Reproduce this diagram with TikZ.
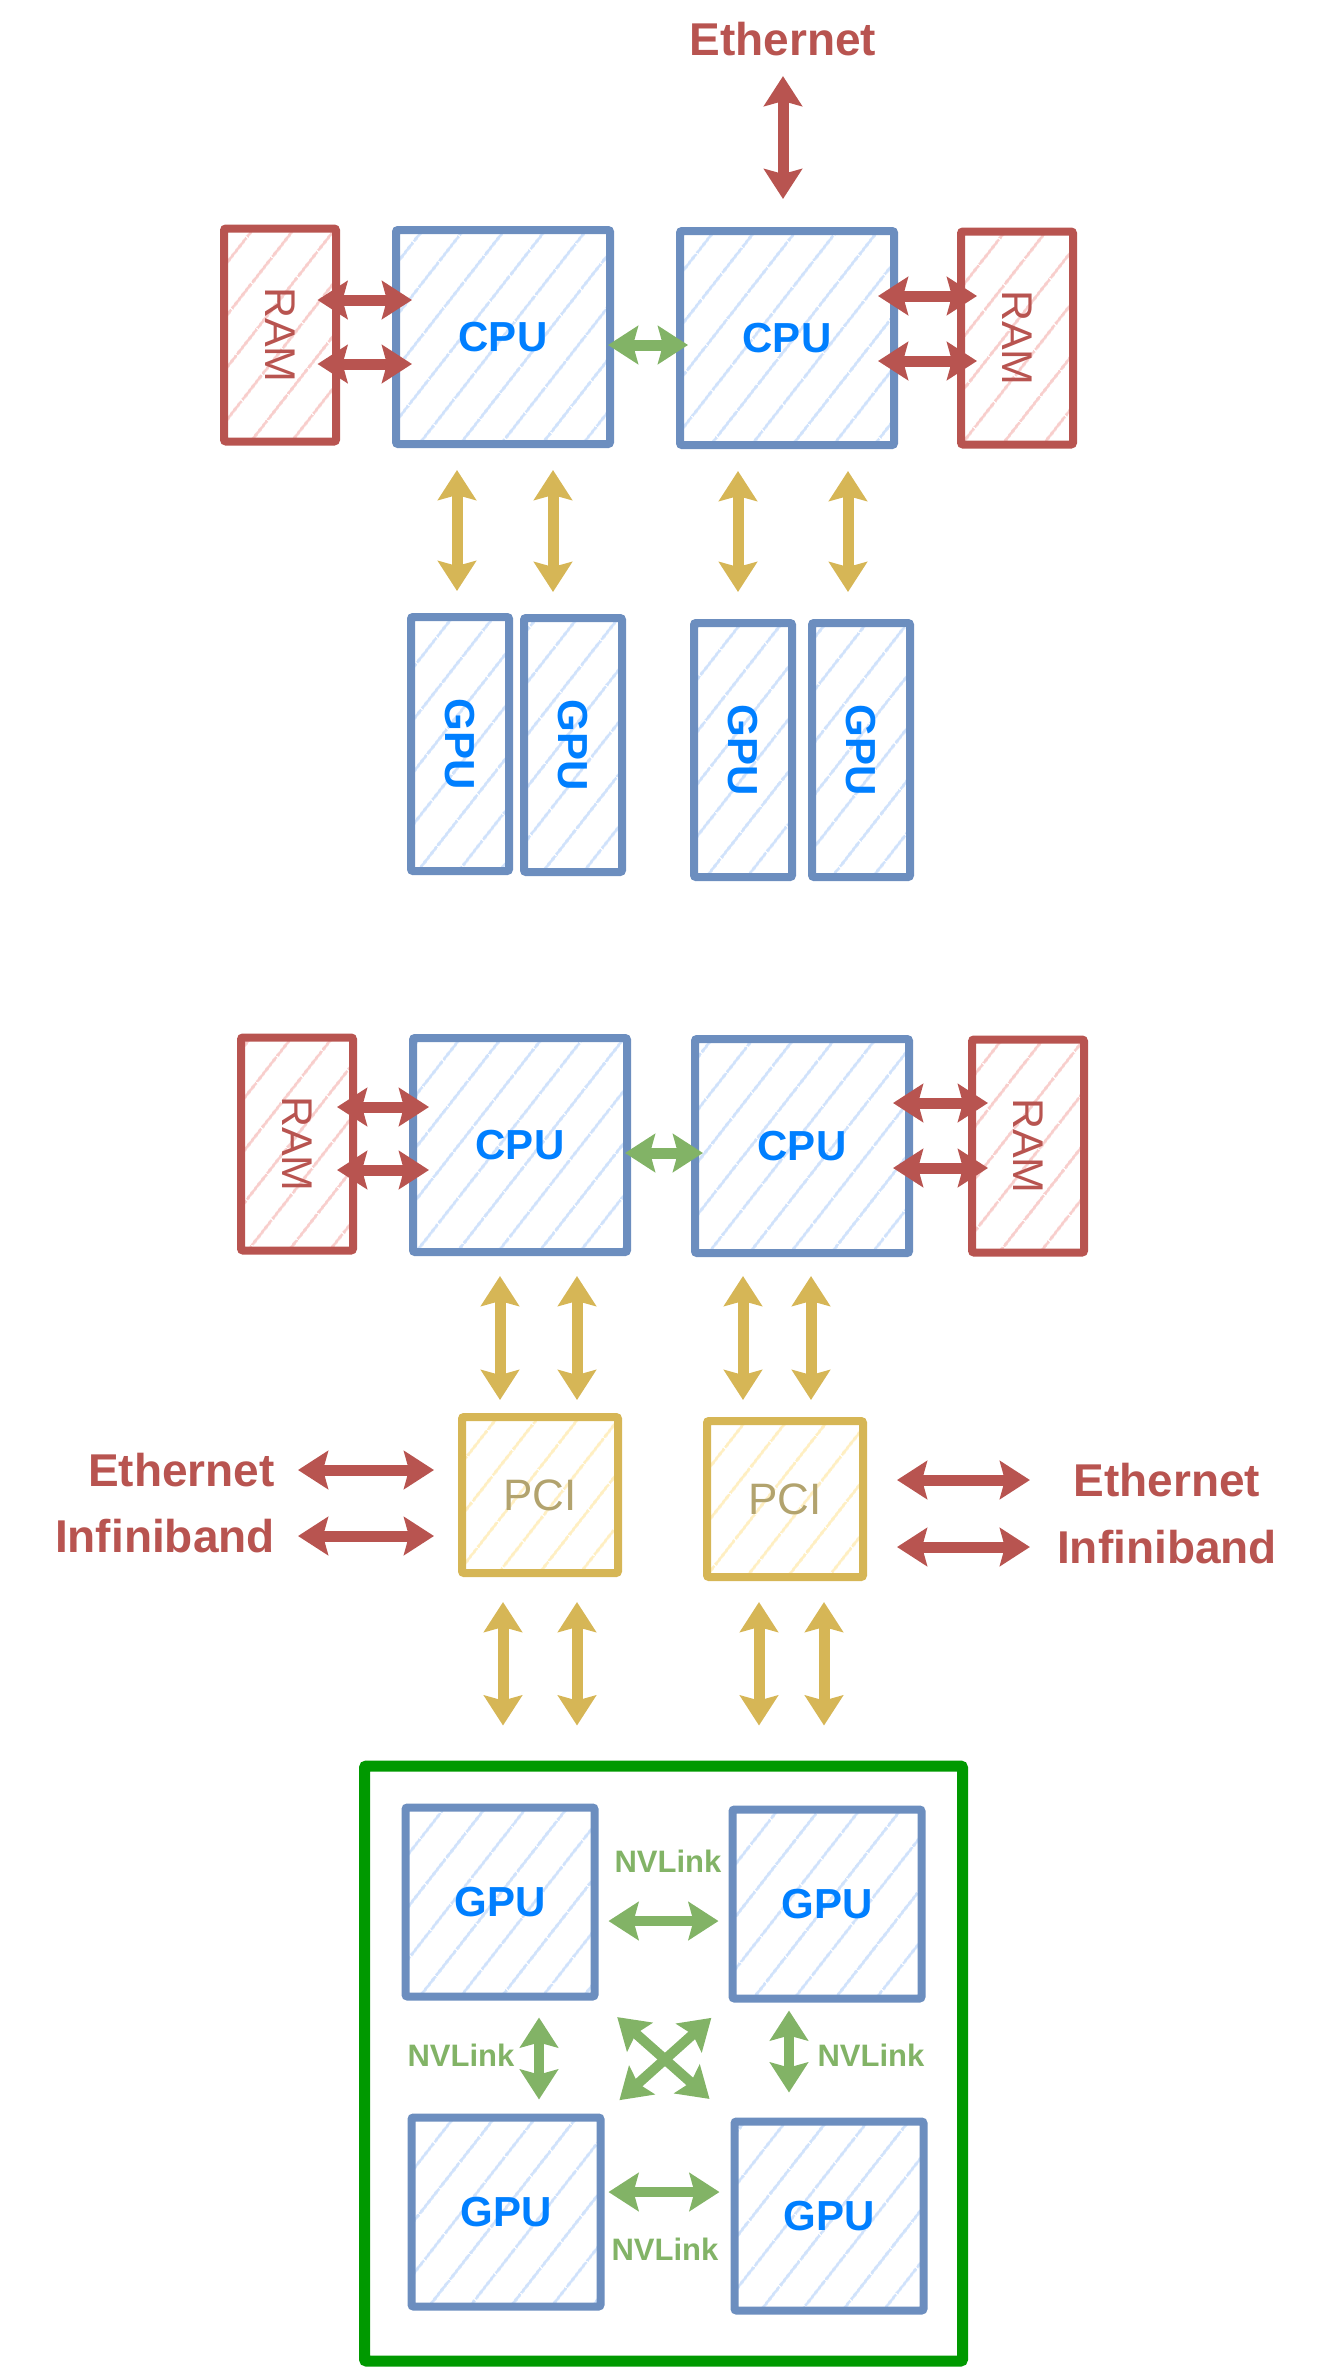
\documentclass[tikz,border=0pt]{standalone}
\usepackage{fontspec}
\setmainfont{Liberation Sans}
\usetikzlibrary{arrows.meta,patterns.meta}
\pgfdeclarelayer{bg}
\pgfsetlayers{bg,main}
\definecolor{cpuline}{HTML}{6C8EBF}
\definecolor{cpuhatch}{HTML}{D0E2FB}
\definecolor{cputext}{HTML}{007FFF}
\definecolor{ramline}{HTML}{B85450}
\definecolor{ramhatch}{HTML}{F8CECC}
\definecolor{pciline}{HTML}{D6B656}
\definecolor{pcihatch}{HTML}{FFEFC2}
\definecolor{pcitext}{HTML}{B2A36E}
\definecolor{nvgreen}{HTML}{82B366}
\definecolor{boardgreen}{HTML}{009900}

\begin{document}
\begin{tikzpicture}[x=1pt,y=-1pt,
    chipbox/.style={draw, line width=8pt, rounded corners=2pt, inner sep=0pt},
    cpubox/.style={chipbox, draw=cpuline, text=cputext,
      pattern={Lines[angle=52,distance=33pt,line width=3pt]}, pattern color=cpuhatch,
      minimum width=214pt, minimum height=214pt,
      font=\fontsize{42}{50}\selectfont\bfseries},
    gpubar/.style={cpubox, minimum width=98pt, minimum height=254pt},
    gpubox/.style={cpubox, minimum width=189pt, minimum height=189pt},
    rambox/.style={chipbox, draw=ramline, text=ramline,
      pattern={Lines[angle=52,distance=33pt,line width=3pt]}, pattern color=ramhatch,
      minimum width=112pt, minimum height=213pt,
      font=\fontsize{43}{51}\selectfont},
    pcibox/.style={chipbox, draw=pciline, text=pcitext,
      pattern={Lines[angle=52,distance=33pt,line width=3pt]}, pattern color=pcihatch,
      minimum width=156pt, minimum height=156pt,
      font=\fontsize{44}{52}\selectfont},
    board/.style={draw=boardgreen, line width=11pt, rounded corners=2pt,
      minimum width=598pt, minimum height=595pt},
    netlabel/.style={inner sep=0pt, text=ramline, font=\fontsize{46}{55}\selectfont\bfseries},
    nvlabel/.style={inner sep=0pt, text=nvgreen, font=\fontsize{31}{37}\selectfont\bfseries},
    duplex/.style={line width=11pt,
      arrows={Stealth[length=30pt,width=38pt,inset=5pt]-Stealth[length=30pt,width=38pt,inset=5pt]}},
    ramlink/.style={duplex, color=ramline, shorten <=-20pt, shorten >=-20pt},
    qpilink/.style={duplex, color=nvgreen, shorten <=-6pt, shorten >=-12pt},
    pcilink/.style={duplex, color=pciline, shorten <=22pt, shorten >=22pt},
    netlink/.style={duplex, color=ramline, shorten <=23pt, shorten >=24pt},
    nvlink/.style={duplex, color=nvgreen, line width=10pt, shorten <=10pt, shorten >=10pt},
  ]
  \useasboundingbox (0,0) rectangle (1327,2367);

  % first machine
  \node (ethTop) [netlabel] at (783,39) {Ethernet};
  \node (ramA) [rambox] at (280,335) {\rotatebox{-90}{RAM}};
  \node (cpuA) [cpubox] at (503,337) {CPU};
  \node (cpuB) [cpubox] at (787,338) {CPU};
  \node (ramB) [rambox] at (1017,338) {\rotatebox{-90}{RAM}};
  \node (barA) [gpubar] at (460,744) {\rotatebox{-90}{GPU}};
  \node (barB) [gpubar] at (573,745) {\rotatebox{-90}{GPU}};
  \node (barC) [gpubar] at (743,750) {\rotatebox{-90}{GPU}};
  \node (barD) [gpubar] at (861,750) {\rotatebox{-90}{GPU}};

  \draw (ethTop.south) edge [netlink, shorten <=20pt, shorten >=28pt] (ethTop.south |- cpuB.north);
  \draw ([yshift=35pt]ramA.east) edge [ramlink] ([yshift=35pt]ramA.east -| cpuA.west);
  \draw ([yshift=-29pt]ramA.east) edge [ramlink] ([yshift=-29pt]ramA.east -| cpuA.west);
  \draw ([yshift=42pt]cpuB.east) edge [ramlink] ([yshift=42pt]cpuB.east -| ramB.west);
  \draw ([yshift=-23pt]cpuB.east) edge [ramlink] ([yshift=-23pt]cpuB.east -| ramB.west);
  \draw ([yshift=-8pt]cpuA.east) edge [qpilink] ([yshift=-8pt]cpuA.east -| cpuB.west);
  \draw ([xshift=-3pt]barA.north |- cpuA.south) edge [pcilink] ([xshift=-3pt]barA.north);
  \draw ([xshift=-20pt]barB.north |- cpuA.south) edge [pcilink] ([xshift=-20pt]barB.north);
  \draw ([xshift=-5pt]barC.north |- cpuB.south) edge [pcilink, shorten >=27pt] ([xshift=-5pt]barC.north);
  \draw ([xshift=-13pt]barD.north |- cpuB.south) edge [pcilink, shorten >=27pt] ([xshift=-13pt]barD.north);

  % second machine
  \node (ramC) [rambox] at (297,1144) {\rotatebox{-90}{RAM}};
  \node (cpuC) [cpubox] at (520,1145) {CPU};
  \node (cpuD) [cpubox] at (802,1146) {CPU};
  \node (ramD) [rambox] at (1028,1146) {\rotatebox{-90}{RAM}};
  \node (pciA) [pcibox] at (540,1495) {PCI};
  \node (pciB) [pcibox] at (785,1499) {PCI};
  \node (ethL) [netlabel, anchor=east] at (275,1470) {Ethernet};
  \node (ibL) [netlabel, anchor=east] at (275,1536) {Infiniband};
  \node (ethR) [netlabel] at (1167,1480) {Ethernet};
  \node (ibR) [netlabel] at (1167,1547) {Infiniband};

  \draw ([yshift=37pt]ramC.east) edge [ramlink] ([yshift=37pt]ramC.east -| cpuC.west);
  \draw ([yshift=-26pt]ramC.east) edge [ramlink] ([yshift=-26pt]ramC.east -| cpuC.west);
  \draw ([yshift=43pt]cpuD.east) edge [ramlink] ([yshift=43pt]cpuD.east -| ramD.west);
  \draw ([yshift=-22pt]cpuD.east) edge [ramlink] ([yshift=-22pt]cpuD.east -| ramD.west);
  \draw ([yshift=-8pt]cpuC.east) edge [qpilink] ([yshift=-8pt]cpuC.east -| cpuD.west);
  \draw ([xshift=-40pt]pciA.north |- cpuC.south) edge [pcilink, shorten <=20pt, shorten >=13pt] ([xshift=-40pt]pciA.north);
  \draw ([xshift=37pt]pciA.north |- cpuC.south) edge [pcilink, shorten <=20pt, shorten >=13pt] ([xshift=37pt]pciA.north);
  \draw ([xshift=-42pt]pciB.north |- cpuD.south) edge [pcilink, shorten <=19pt, shorten >=17pt] ([xshift=-42pt]pciB.north);
  \draw ([xshift=26pt]pciB.north |- cpuD.south) edge [pcilink, shorten <=19pt, shorten >=17pt] ([xshift=26pt]pciB.north);
  \draw (ethL.east) edge [netlink] (ethL.east -| pciA.west);
  \draw (ibL.east) edge [netlink] (ibL.east -| pciA.west);
  \draw (ethR -| pciB.east) edge [netlink, shorten <=30pt, shorten >=27pt] (ethR -| ibR.west);
  \draw (ibR -| pciB.east) edge [netlink, shorten <=30pt, shorten >=27pt] (ibR.west);

  % gpu board
  \begin{pgfonlayer}{bg}
    \node (sys) [board] at (663.5,2063.5) {};
  \end{pgfonlayer}
  \node (gpuA) [gpubox] at (500,1902) {GPU};
  \node (gpuB) [gpubox] at (827,1904) {GPU};
  \node (gpuC) [gpubox] at (506,2212) {GPU};
  \node (gpuD) [gpubox] at (829,2216) {GPU};
  \node (nvA) [nvlabel] at (668,1861) {NVLink};
  \node (nvB) [nvlabel] at (461,2055) {NVLink};
  \node (nvC) [nvlabel] at (871,2055) {NVLink};
  \node (nvD) [nvlabel] at (665,2249) {NVLink};

  \draw ([xshift=-37pt]pciA.south) edge [pcilink, shorten <=25pt, shorten >=35pt] ([xshift=-37pt]pciA.south |- sys.north);
  \draw ([xshift=37pt]pciA.south) edge [pcilink, shorten <=25pt, shorten >=35pt] ([xshift=37pt]pciA.south |- sys.north);
  \draw ([xshift=-26pt]pciB.south) edge [pcilink, shorten <=21pt, shorten >=35pt] ([xshift=-26pt]pciB.south |- sys.north);
  \draw ([xshift=39pt]pciB.south) edge [pcilink, shorten <=21pt, shorten >=35pt] ([xshift=39pt]pciB.south |- sys.north);
  \draw ([yshift=-19pt]gpuA.east) edge [nvlink] ([yshift=-19pt]gpuA.east -| gpuB.west);
  \draw ([yshift=20pt]gpuC.east) edge [nvlink, shorten <=4pt, shorten >=11pt] ([yshift=20pt]gpuC.east -| gpuD.west);
  \draw ([xshift=39pt]gpuA.south) edge [nvlink, shorten <=17pt, shorten >=14pt] ([xshift=39pt]gpuA.south |- gpuC.north);
  \draw ([xshift=-38pt]gpuB.south) edge [nvlink, shorten <=8pt, shorten >=25pt] ([xshift=-38pt]gpuB.south |- gpuD.north);
  \draw (gpuA.south east) edge [nvlink, shorten <=25pt, shorten >=28pt] (gpuD.north west);
  \draw (gpuB.south west) edge [nvlink, shorten <=23pt, shorten >=20pt] (gpuC.north east);
\end{tikzpicture}
\end{document}
